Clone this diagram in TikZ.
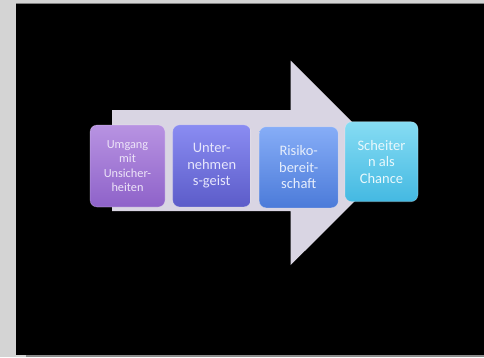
\documentclass[tikz,border=0pt]{standalone}
\usepackage{fontspec}
\setmainfont{Carlito}
\begin{document}
\begin{tikzpicture}[x=1pt,y=1pt,
  boxbase/.style={rounded corners=7pt, align=center, inner sep=0pt,
    font=\fontsize{14.5}{16.5}\selectfont, draw=white, draw opacity=0.25, line width=0.6pt},
  boxa/.style={boxbase, top color=boxAt, bottom color=boxAb, text=txtA,
    font=\fontsize{12.3}{14.2}\selectfont},
  boxb/.style={boxbase, top color=boxBt, bottom color=boxBb, text=txtB},
  boxc/.style={boxbase, top color=boxCt, bottom color=boxCb, text=txtC},
  boxd/.style={boxbase, top color=boxDt, bottom color=boxDb, text=txtD}]
\definecolor{pagegray}{HTML}{D4D4D4}
\definecolor{shadowgray}{HTML}{8C8C8C}
\definecolor{arrowfill}{HTML}{D9D5E3}
\definecolor{boxAt}{HTML}{B893E2}
\definecolor{boxAb}{HTML}{8E62C9}
\definecolor{boxBt}{HTML}{8A8CF2}
\definecolor{boxBb}{HTML}{5C5CC9}
\definecolor{boxCt}{HTML}{86ADF7}
\definecolor{boxCb}{HTML}{4C7BD9}
\definecolor{boxDt}{HTML}{86DCF3}
\definecolor{boxDb}{HTML}{44B9E2}
\definecolor{txtA}{HTML}{EDE4F8}
\definecolor{txtB}{HTML}{E6E6FC}
\definecolor{txtC}{HTML}{E6EEFC}
\definecolor{txtD}{HTML}{E8F8FC}
% page
\fill[pagegray] (0,0) rectangle (484,357);
\useasboundingbox (0,0) rectangle (484,357);
\fill[shadowgray] (26,0) rectangle (484,2.5);
\fill[black] (16,2.5) rectangle (484,354);
\draw[gray, line width=0.4pt] (16,354) -- (484,354);
% big arrow
\fill[arrowfill] (112,247) -- (290.7,247) -- (290.7,296.3) -- (393,194)
  -- (290.7,92) -- (290.7,146) -- (112,146) -- cycle;
% boxes
\node[boxa, minimum width=75pt, minimum height=82pt] (b1) at (127.5,191)
  {Umgang\\mit\\Unsicher-\\heiten};
\node[boxb, minimum width=78pt, minimum height=82pt] (b2) at (211.7,191.1)
  {Unter-\\nehmen\\s-geist};
\node[boxc, minimum width=79pt, minimum height=81pt] (b3) at (298.7,189.7)
  {Risiko-\\bereit-\\schaft};
\node[boxd, minimum width=73pt, minimum height=80pt] (b4) at (381.5,195.3)
  {Scheiter\\n als\\Chance};
\end{tikzpicture}
\end{document}
